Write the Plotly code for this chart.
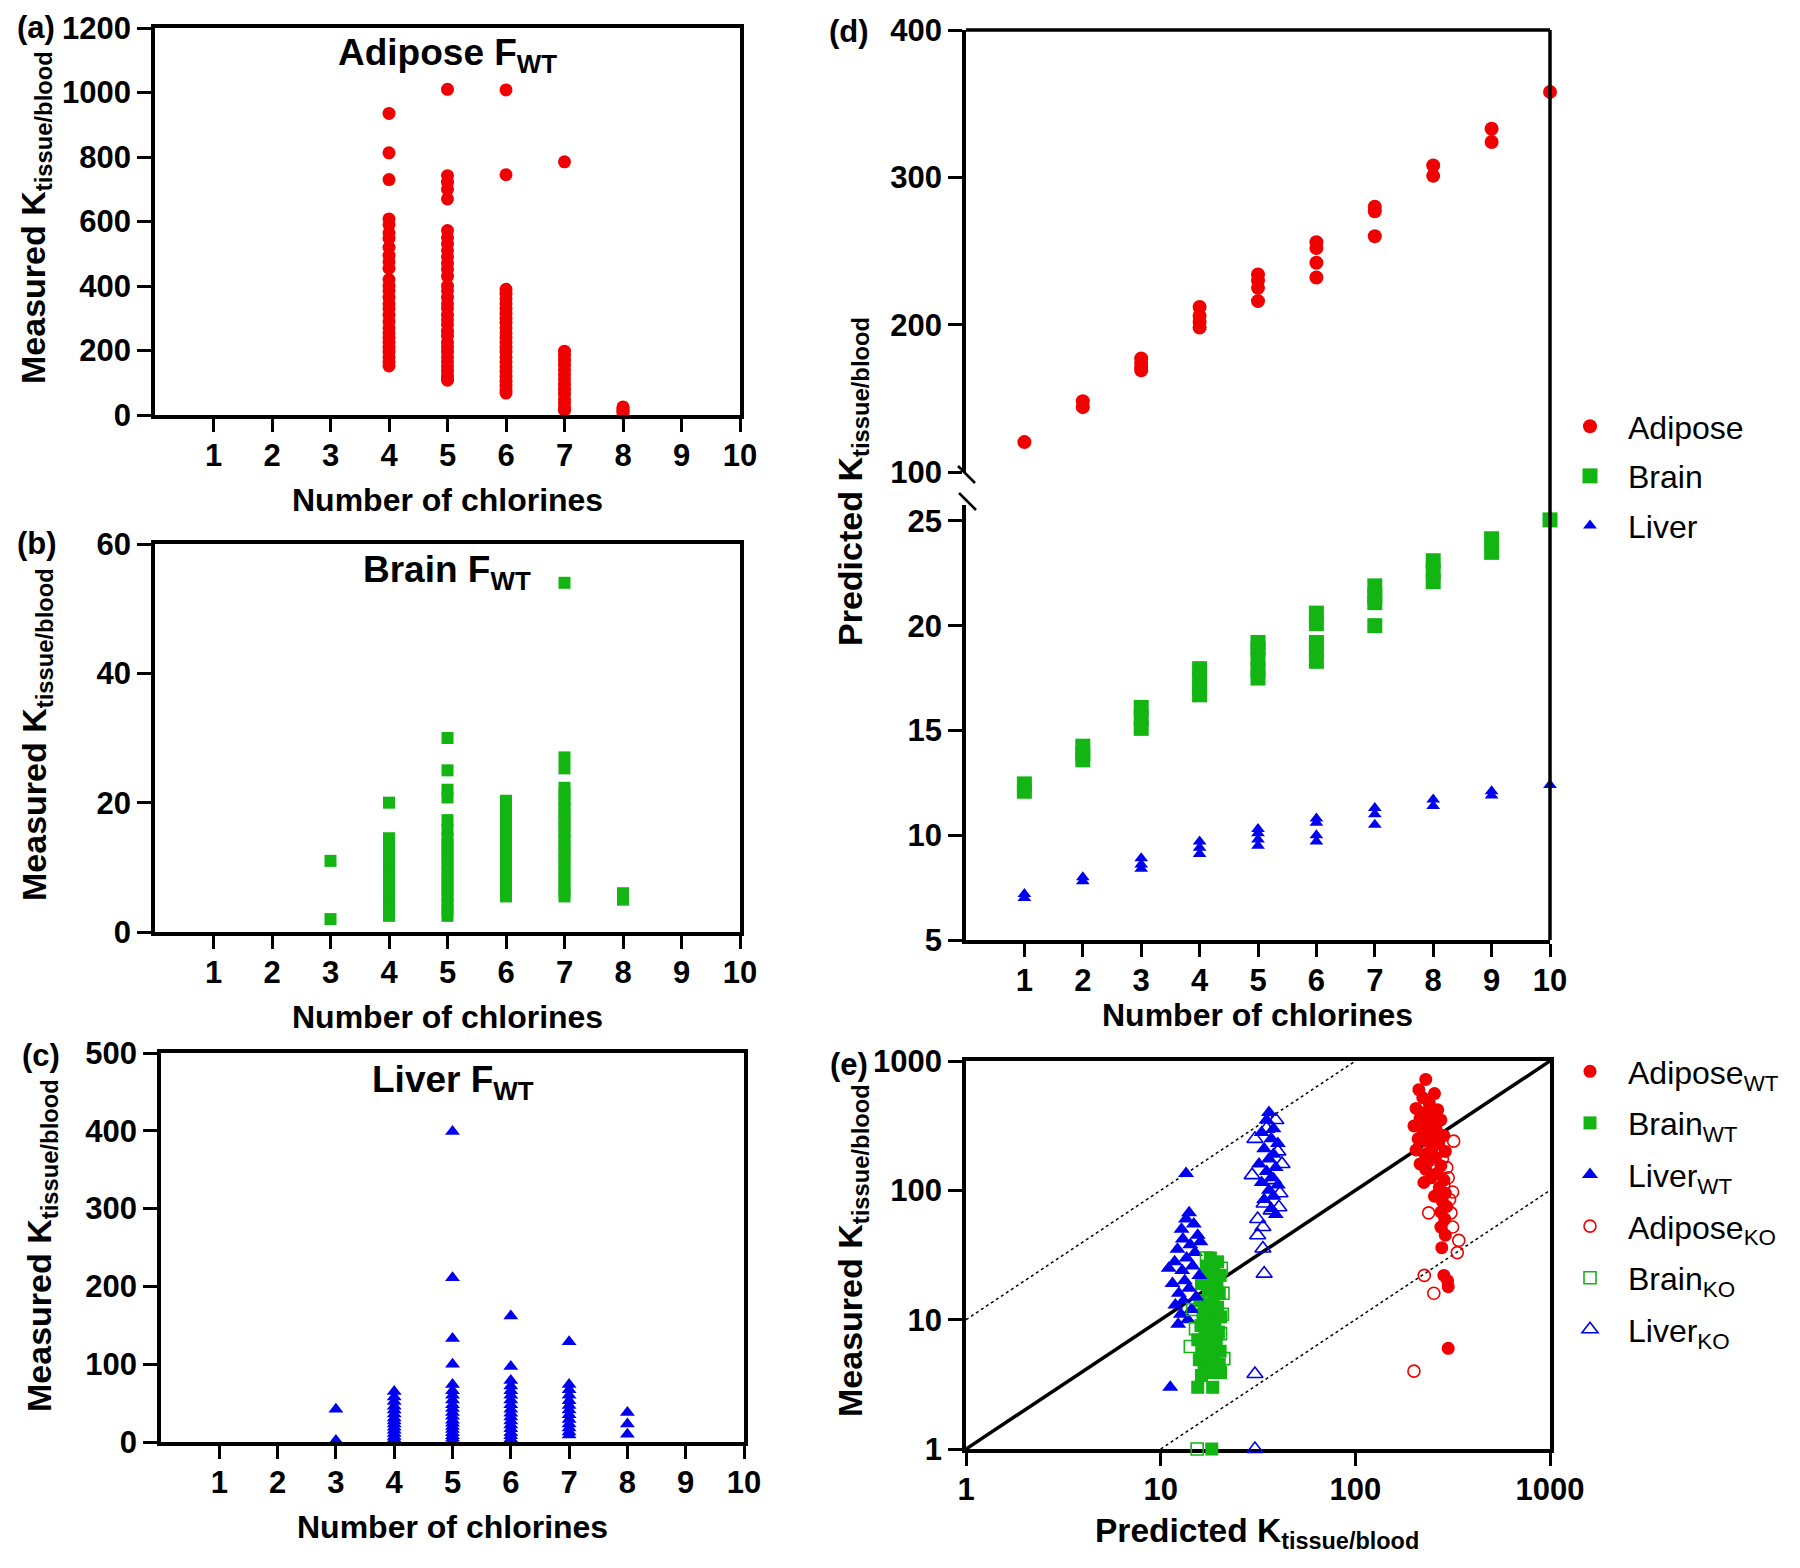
import plotly.graph_objects as go

# ---------------- DATA ----------------
chlorine_ticks = [1, 2, 3, 4, 5, 6, 7, 8, 9, 10]

# (a) Adipose F_WT measured, by number of chlorines
adipose_cl4 = [935, 813, 730, 608, 590, 565, 548, 520, 495, 475, 455, 420, 400, 385, 365, 345, 330, 310, 290,
               270, 255, 240, 225, 210, 195, 180, 165, 152]
adipose_cl5 = [1010, 742, 722, 700, 670, 572, 550, 530, 510, 490, 470, 452, 430, 400, 385, 365, 345, 330, 310,
               295, 280, 260, 245, 225, 210, 195, 180, 165, 150, 135, 120, 108]
adipose_cl6 = [1008, 745, 390, 375, 360, 345, 330, 315, 300, 285, 270, 255, 240, 225, 210, 195, 180, 165, 150,
               135, 120, 105, 90, 78, 68]
adipose_cl7 = [785, 198, 185, 170, 155, 140, 125, 110, 95, 80, 65, 50, 38, 25, 15]
adipose_cl8 = [25, 18, 12, 6]

# (b) Brain F_WT measured
brain_cl3 = [11, 2]
brain_cl4 = [20, 14.5, 13.5, 12.5, 11.5, 10.5, 9.5, 8.5, 7.5, 6.5, 5.5, 4.5, 3.5, 2.5]
brain_cl5 = [30, 25, 22, 20.8, 17.3, 15.8, 14.5, 13.5, 12.5, 11.5, 10.5, 9.5, 8.5, 7.5, 6.5, 5.5, 4.5, 3.5, 2.5]
brain_cl6 = [20.3, 19.3, 18.3, 17.3, 16.3, 15.3, 14.3, 13.3, 12.3, 11.3, 10.3, 9.3, 8.3, 7.3, 6.3, 5.5]
brain_cl7 = [54, 27, 25.3, 22.3, 21.3, 20.3, 19.3, 18.3, 17.3, 16.3, 15.3, 14.3, 13.3, 12.3, 11.3, 10.3, 9.3,
             8.3, 7.3, 6.3, 5.5]
brain_cl8 = [6, 5]

# (c) Liver F_WT measured
liver_cl3 = [42, 2]
liver_cl4 = [65, 58, 52, 46, 41, 36, 31, 27, 23, 19, 15, 11, 7, 4, 1]
liver_cl5 = [399, 211, 133, 100, 74, 66, 60, 54, 48, 43, 38, 33, 28, 24, 20, 16, 12, 8, 5, 2]
liver_cl6 = [162, 97, 79, 72, 66, 60, 54, 48, 42, 37, 32, 27, 22, 17, 12, 8, 4, 1]
liver_cl7 = [129, 74, 67, 60, 53, 47, 41, 35, 29, 23, 18, 13, 9]
liver_cl8 = [38, 23, 10]

# (d) Predicted K by number of chlorines (index 0 -> 1 Cl ... index 9 -> 10 Cl)
pred_adipose = [[120.3], [148, 144], [177, 174, 171, 169], [212, 206, 202, 198], [234, 230, 225, 216],
                [256, 252, 242, 232], [280, 277, 260], [308, 301], [333, 324], [358]]
pred_brain = [[12.45, 12.1], [14.25, 13.9, 13.6], [16.1, 15.6, 15.1], [17.95, 17.5, 17.0, 16.7],
              [19.2, 18.9, 18.4, 17.9, 17.5], [20.6, 20.1, 19.2, 18.8, 18.3], [21.9, 21.4, 21.1, 20.0],
              [23.1, 22.6, 22.1], [24.15, 23.5], [25.05]]
pred_liver = [[7.2, 7.0], [8.0, 7.8], [8.9, 8.6, 8.4], [9.7, 9.4, 9.1], [10.3, 10.1, 9.8, 9.5],
              [10.8, 10.6, 10.0, 9.7], [11.3, 11.0, 10.5], [11.7, 11.4], [12.1, 11.9], [12.4]]

# (e) Predicted vs measured
adipose_wt_pred = [230, 212, 255, 222, 240, 205, 265, 228, 250, 215, 275, 238, 200, 260, 222, 245, 285, 210, 232,
                   268, 250, 205, 290, 228, 258, 240, 215, 275, 230, 262, 245, 285, 225, 270, 290, 255, 280, 295,
                   275, 288, 275, 290, 278, 285, 298, 300, 300]
adipose_wt_meas = [720, 600, 560, 520, 470, 430, 420, 400, 380, 360, 350, 330, 315, 300, 290, 270, 265, 250, 240,
                   230, 215, 205, 200, 190, 180, 170, 160, 155, 145, 135, 125, 120, 115, 105, 95, 90, 82, 75,
                   68, 60, 52, 45, 36, 22, 20, 18, 6]
adipose_ko_pred = [320, 295, 270, 285, 316, 310, 238, 316, 340, 334, 226, 253, 200, 300, 280, 305]
adipose_ko_meas = [240, 150, 200, 110, 97, 67, 67, 52, 41, 33, 22, 16, 4, 125, 175, 85]
brain_wt_pred = [18.0, 19.6, 17.2, 18.7, 20.2, 17.8, 16.2, 19.3, 17.6, 20.0, 18.6, 15.9, 17.1, 19.6, 18.1, 16.5,
                 20.3, 17.7, 19.0, 16.1, 18.4, 19.8, 16.9, 15.5, 19.3, 17.8, 16.3, 20.2, 17.3, 18.8, 15.8, 18.2,
                 20.0, 16.7, 19.4, 17.8, 16.2, 20.3, 15.5, 18.5, 18.3]
brain_wt_meas = [30, 28, 26, 24, 22, 21, 19, 18, 17, 16, 15, 14, 13, 12.5, 12, 11, 10.5, 10, 9.5, 9, 8.5, 8, 7.5,
                 7, 6.8, 6.5, 6, 5.7, 5.4, 5.1, 4.9, 4.7, 4.5, 4.3, 4.1, 3.9, 3.7, 3.9, 3.0, 3.0, 1.0]
brain_ko_pred = [14.2, 20.3, 20.9, 17.2, 19.4, 15.4, 14.6, 20.7, 21.1, 15.1, 20.5]
brain_ko_meas = [6.2, 7.8, 16, 30, 20, 1.0, 12, 11, 5, 8.5, 25]
liver_wt_pred = [14.0, 13.5, 14.8, 12.8, 15.5, 13.0, 14.2, 12.2, 15.0, 13.6, 11.8, 14.6, 12.9, 15.8, 13.3, 11.5,
                 14.0, 12.4, 15.2, 13.1, 11.9, 14.4, 12.7, 13.8, 12.3, 13.5, 11.2, 16, 11,
                 36, 35, 38, 33, 37, 40, 34, 38, 36, 32, 39, 35, 37, 33, 40, 36, 38, 34, 37, 39]
liver_wt_meas = [67, 60, 55, 50, 45, 42, 38, 35, 33, 30, 28, 26, 24, 22, 20, 19, 17.5, 16, 15, 14, 13, 12, 11, 10,
                 9.2, 135, 3.0, 40, 25,
                 400, 350, 300, 280, 250, 230, 210, 190, 175, 160, 150, 140, 125, 115, 110, 100, 90, 85, 72, 65]
liver_ko_pred = [39, 29.5, 34, 33.5, 31.5, 33.5, 40.5, 37, 34, 30.5, 30.5, 41, 38, 31.5, 40, 35, 42, 30.5]
liver_ko_meas = [350, 131, 22.7, 35.5, 45, 52, 74, 70, 79, 3.8, 1.0, 95, 120, 60, 200, 300, 160, 250]

# reference lines for (e)
unity_x = [1, 1000]
unity_y = [1, 1000]
upper_fold_x = [1, 100]
upper_fold_y = [10, 1000]
lower_fold_x = [10, 1000]
lower_fold_y = [1, 100]

# ---------------- STYLE ----------------
W, H = 1800, 1568
OFF = 8  # page body margin offset
FONT = "Liberation Sans, Arial, Helvetica, sans-serif"
RED = "#f00000"
GREEN = "#12b512"
BLUE = "#0000f0"
AXW = 3.5


def fx(p):
    return (p - OFF) / W


def fy(p):
    return 1 - (p - OFF) / H


fig = go.Figure()


def add_columns(cols, symbol, color, size, xa, ya):
    xs, ys = [], []
    for cl, vals in cols:
        xs += [cl] * len(vals)
        ys += vals
    fig.add_trace(go.Scatter(x=xs, y=ys, mode="markers", xaxis=xa, yaxis=ya, showlegend=False,
                             cliponaxis=False,
                             marker=dict(symbol=symbol, color=color, size=size, line=dict(width=0))))


add_columns([(4, adipose_cl4), (5, adipose_cl5), (6, adipose_cl6), (7, adipose_cl7), (8, adipose_cl8)],
            "circle", RED, 13, "x", "y")
add_columns([(3, brain_cl3), (4, brain_cl4), (5, brain_cl5), (6, brain_cl6), (7, brain_cl7), (8, brain_cl8)],
            "square", GREEN, 12, "x2", "y2")
add_columns([(3, liver_cl3), (4, liver_cl4), (5, liver_cl5), (6, liver_cl6), (7, liver_cl7), (8, liver_cl8)],
            "triangle-up", BLUE, 13, "x3", "y3")


def add_pred(series, name, symbol, color, size, ya, group):
    xs, ys = [], []
    for cl, vals in zip(chlorine_ticks, series):
        xs += [cl] * len(vals)
        ys += vals
    fig.add_trace(go.Scatter(x=xs, y=ys, mode="markers", xaxis="x4", yaxis=ya, name=name, cliponaxis=False,
                             legend="legend", legendgroup=group,
                             marker=dict(symbol=symbol, color=color, size=size, line=dict(width=0))))


add_pred(pred_adipose, "Adipose", "circle", RED, 14, "y5", "d1")
add_pred(pred_brain, "Brain", "square", GREEN, 15, "y4", "d2")
add_pred(pred_liver, "Liver", "triangle-up", BLUE, 12, "y4", "d3")

# (e) lines
fig.add_trace(go.Scatter(x=unity_x, y=unity_y, mode="lines", xaxis="x6", yaxis="y6", showlegend=False,
                         line=dict(color="black", width=3.5)))
fig.add_trace(go.Scatter(x=upper_fold_x, y=upper_fold_y, mode="lines", xaxis="x6", yaxis="y6", showlegend=False,
                         line=dict(color="black", width=1.5, dash="3px,3px")))
fig.add_trace(go.Scatter(x=lower_fold_x, y=lower_fold_y, mode="lines", xaxis="x6", yaxis="y6", showlegend=False,
                         line=dict(color="black", width=1.5, dash="3px,3px")))


def add_e(xv, yv, name, symbol, color, size, group, open_=False):
    mk = dict(symbol=symbol, size=size)
    if open_:
        mk.update(color=color, line=dict(color=color, width=1.6))
    else:
        mk.update(color=color, line=dict(width=0))
    fig.add_trace(go.Scatter(x=xv, y=yv, mode="markers", xaxis="x6", yaxis="y6", name=name, cliponaxis=False,
                             legend="legend2", legendgroup=group, marker=mk))


add_e(adipose_wt_pred, adipose_wt_meas, "Adipose<sub>WT</sub>", "circle", RED, 13, "e1")
add_e(brain_wt_pred, brain_wt_meas, "Brain<sub>WT</sub>", "square", GREEN, 13, "e2")
add_e(liver_wt_pred, liver_wt_meas, "Liver<sub>WT</sub>", "triangle-up", BLUE, 14, "e3")
add_e(adipose_ko_pred, adipose_ko_meas, "Adipose<sub>KO</sub>", "circle-open", RED, 12, "e4", True)
add_e(brain_ko_pred, brain_ko_meas, "Brain<sub>KO</sub>", "square-open", GREEN, 12, "e5", True)
add_e(liver_ko_pred, liver_ko_meas, "Liver<sub>KO</sub>", "triangle-up-open", BLUE, 14, "e6", True)

# ---------------- AXES ----------------
tickfont = dict(family=FONT, size=31, color="black", weight="bold")


def xax(left, right, anchor, mirror=True, **kw):
    d = dict(domain=[fx(left), fx(right)], anchor=anchor, showline=True, linewidth=AXW, linecolor="black",
             mirror=mirror, ticks="outside", ticklen=13, tickwidth=3, tickcolor="black", showgrid=False,
             zeroline=False, tickfont=tickfont, ticklabelstandoff=-3, automargin=False)
    d.update(kw)
    return d


def yax(top, bottom, anchor, mirror=True, **kw):
    d = dict(domain=[fy(bottom), fy(top)], anchor=anchor, showline=True, linewidth=AXW, linecolor="black",
             mirror=mirror, ticks="outside", ticklen=14, tickwidth=3, tickcolor="black", showgrid=False,
             zeroline=False, tickfont=tickfont, ticklabelstandoff=0, automargin=False)
    d.update(kw)
    return d


chl_ticks = dict(range=[0, 10], tickvals=chlorine_ticks, ticktext=[str(c) for c in chlorine_ticks])

fig.update_layout(
    xaxis=xax(155, 740, "y", **chl_ticks),
    yaxis=yax(28, 415, "x", range=[0, 1200], tickvals=[0, 200, 400, 600, 800, 1000, 1200]),
    xaxis2=xax(155, 740, "y2", **chl_ticks),
    yaxis2=yax(544, 932, "x2", range=[0, 60], tickvals=[0, 20, 40, 60]),
    xaxis3=xax(161, 744, "y3", **chl_ticks),
    yaxis3=yax(1053, 1442, "x3", range=[0, 500], tickvals=[0, 100, 200, 300, 400, 500]),
    xaxis4=xax(966, 1550, "y4", mirror=False, **chl_ticks),
    yaxis4=yax(505, 940, "x4", mirror=False, range=[5, 25.76], tickvals=[5, 10, 15, 20, 25]),
    yaxis5=yax(30, 472, "x4", mirror=False, range=[100, 400], tickvals=[100, 200, 300, 400]),
    xaxis6=xax(966, 1550, "y6", type="log", range=[0, 3], tickvals=[1, 10, 100, 1000],
               ticktext=["1", "10", "100", "1000"], layer="below traces"),
    yaxis6=yax(1061, 1449, "x6", type="log", range=[0, 3], tickvals=[1, 10, 100, 1000],
               ticktext=["1", "10", "100", "1000"], layer="below traces"),
)

# ---------------- SHAPES (panel d frame & break) ----------------
line_kw = dict(color="black", width=AXW)
shapes = [
    dict(type="line", xref="paper", yref="paper", x0=fx(966), x1=fx(1550), y0=fy(30), y1=fy(30), line=line_kw),
    dict(type="line", xref="paper", yref="paper", x0=fx(1550), x1=fx(1550), y0=fy(30), y1=fy(940), line=line_kw),
    dict(type="line", xref="paper", yref="paper", x0=fx(958), x1=fx(975), y0=fy(466), y1=fy(483),
         line=dict(color="black", width=2.5)),
    dict(type="line", xref="paper", yref="paper", x0=fx(959), x1=fx(976), y0=fy(493), y1=fy(510),
         line=dict(color="black", width=2.5)),
]
fig.update_layout(shapes=shapes)

# ---------------- TEXT ----------------
ann = []


def text(x, y, s, size, bold=True, angle=0, xanchor="center", yanchor="middle"):
    ann.append(dict(x=fx(x), y=fy(y), xref="paper", yref="paper", text=s, showarrow=False, textangle=angle,
                    xanchor=xanchor, yanchor=yanchor,
                    font=dict(family=FONT, size=size, color="black", weight="bold" if bold else "normal")))


# panel labels
text(36, 27, "(a)", 31)
text(37, 543, "(b)", 31)
text(41, 1055, "(c)", 31)
text(849, 32, "(d)", 31)
text(849, 1064, "(e)", 31)

# panel titles
text(447, 55, "Adipose F<sub>WT</sub>", 37)
text(447, 572, "Brain F<sub>WT</sub>", 37)
text(453, 1082, "Liver F<sub>WT</sub>", 37)

# x titles
text(447, 500, "Number of chlorines", 32)
text(447, 1017, "Number of chlorines", 32)
text(452, 1527, "Number of chlorines", 32)
text(1257, 1015, "Number of chlorines", 32)
text(1257, 1533, "Predicted K<sub>tissue/blood</sub>", 33.5)

# y titles
text(36, 218, "Measured K<sub>tissue/blood</sub>", 34, angle=-90)
text(36, 735, "Measured K<sub>tissue/blood</sub>", 34, angle=-90)
text(41, 1246, "Measured K<sub>tissue/blood</sub>", 34, angle=-90)
text(852, 482, "Predicted K<sub>tissue/blood</sub>", 34, angle=-90)
text(852, 1251, "Measured K<sub>tissue/blood</sub>", 34, angle=-90)

fig.update_layout(annotations=ann)

# ---------------- LEGENDS & LAYOUT ----------------
fig.update_layout(
    width=W, height=H, margin=dict(l=0, r=0, t=0, b=0, autoexpand=False),
    paper_bgcolor="white", plot_bgcolor="white",
    font=dict(family=FONT, color="black"),
    legend=dict(x=fx(1552), y=fy(399), xanchor="left", yanchor="top", bgcolor="rgba(0,0,0,0)",
                font=dict(family=FONT, size=32, color="black"), tracegroupgap=5, itemwidth=66,
                itemsizing="trace"),
    legend2=dict(x=fx(1552), y=fy(1044), xanchor="left", yanchor="top", bgcolor="rgba(0,0,0,0)",
                 font=dict(family=FONT, size=32, color="black"), tracegroupgap=7, itemwidth=66,
                 itemsizing="trace"),
)

fig.write_html("out.html")
